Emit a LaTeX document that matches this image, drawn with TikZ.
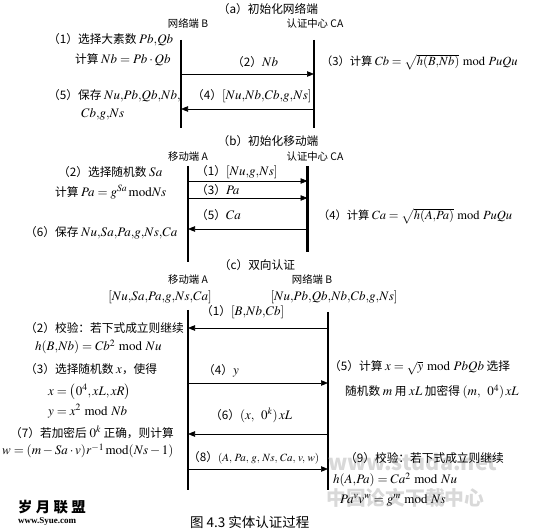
\documentclass[tikz,border=0pt]{standalone}
\usepackage{mathptmx}
\usepackage{fontspec}
\setmainfont{Liberation Serif}
\newfontfamily\cjk[Scale=0.9]{Noto Sans CJK SC}
\usetikzlibrary{arrows.meta}
\tikzset{
  life/.style={line width=2.2pt},
  msg/.style={line width=0.7pt,-{Triangle[length=7pt,width=5.5pt]}},
  txt/.style={inner sep=0pt,anchor=west,font=\fontsize{13}{15}\selectfont\cjk},
  ctr/.style={inner sep=0pt,anchor=center,font=\fontsize{13}{15}\selectfont\cjk},
  hdr/.style={inner sep=0pt,anchor=center,font=\fontsize{11.5}{13}\selectfont\cjk},
  wm/.style={inner sep=0pt,anchor=west,text=black!15,font=\fontsize{22}{24}\selectfont\bfseries\cjk},
}
\begin{document}
\begin{tikzpicture}[x=1pt,y=-1pt]
\useasboundingbox (0,0) rectangle (542,532);
% ---------- (a)
\node[ctr] (ta) at (268,9) {（a）初始化网络端};
\node[hdr] (hb) at (188,24) {网络端 B};
\node[hdr] (hca) at (315,24) {认证中心 CA};
\coordinate (aB1) at (181,40); \coordinate (aB2) at (181,128);
\coordinate (aC1) at (314,40); \coordinate (aC2) at (314,128);
\draw[life] (aB1) -- (aB2);
\draw[life] (aC1) -- (aC2);
\coordinate (a2s) at (181,74); \coordinate (a2e) at (314,74);
\coordinate (a4s) at (314,109); \coordinate (a4e) at (181,109);
\draw[msg] (a2s) -- (a2e);
\draw[msg] (a4s) -- (a4e);
\node[txt] (a2l) at (232,62) {（2）$Nb$};
\node[txt] (a4l) at (192,96) {（4）$[Nu{,}Nb{,}Cb{,}g{,}Ns]$};
\node[txt] (a1) at (48,40) {（1）选择大素数 $Pb{,}Qb$};
\node[txt] (a1b) at (75,60) {计算 $Nb=Pb\cdot Qb$};
\node[txt] (a5) at (48,96) {（5）保存 $Nu{,}Pb{,}Qb{,}Nb{,}$};
\node[txt] (a5b) at (81,114) {$Cb{,}g{,}Ns$};
\node[txt,font=\fontsize{12.5}{15}\selectfont\cjk] (a3) at (321,62) {（3）计算 $Cb=\sqrt{h(B{,}Nb)}\bmod PuQu$};
% ---------- (b)
\node[ctr] (tb) at (268,141) {（b）初始化移动端};
\node[hdr] (ha) at (188,157) {移动端 A};
\node[hdr] (hcb) at (315,157) {认证中心 CA};
\coordinate (bA1) at (188,166); \coordinate (bA2) at (188,262);
\coordinate (bC1) at (307.5,166); \coordinate (bC2) at (307.5,252);
\draw[life] (bA1) -- (bA2);
\draw[life] (bC1) -- (bC2);
\coordinate (b1s) at (188,181); \coordinate (b1e) at (307.5,181);
\coordinate (b3s) at (188,198); \coordinate (b3e) at (307.5,198);
\coordinate (b5s) at (307.5,229); \coordinate (b5e) at (188,229);
\draw[msg] (b1s) -- (b1e);
\draw[msg] (b3s) -- (b3e);
\draw[msg] (b5s) -- (b5e);
\node[txt] (b1l) at (196,172) {（1）$[Nu{,}g{,}Ns]$};
\node[txt] (b3l) at (196,190) {（3）$Pa$};
\node[txt] (b5l) at (196,215) {（5）$Ca$};
\node[txt] (b2) at (58,172) {（2）选择随机数 $Sa$};
\node[txt] (b2b) at (55,192) {计算 $Pa=g^{Sa}\,\mathrm{mod}Ns$};
\node[txt] (b6) at (25,233) {（6）保存 $Nu{,}Sa{,}Pa{,}g{,}Ns{,}Ca$};
\node[txt,font=\fontsize{12.5}{15}\selectfont\cjk] (b4) at (318,216) {（4）计算 $Ca=\sqrt{h(A{,}Pa)}\bmod PuQu$};
% ---------- (c)
\node[ctr] (tc) at (257,265) {（c）双向认证};
\node[hdr] (hac) at (188,280) {移动端 A};
\node[ctr] (sa) at (160,297) {$[Nu{,}Sa{,}Pa{,}g{,}Ns{,}Ca]$};
\node[hdr] (hbc) at (312,280) {网络端 B};
\node[ctr] (sb) at (334,297) {$[Nu{,}Pb{,}Qb{,}Nb{,}Cb{,}g{,}Ns]$};
\coordinate (cA1) at (188,310); \coordinate (cA2) at (188,490);
\coordinate (cB1) at (328,312); \coordinate (cB2) at (328,490);
\draw[life] (cA1) -- (cA2);
\draw[life] (cB1) -- (cB2);
\coordinate (c1s) at (328,328); \coordinate (c1e) at (188,328);
\coordinate (c4s) at (188,383); \coordinate (c4e) at (328,383);
\coordinate (c6s) at (328,434); \coordinate (c6e) at (188,434);
\coordinate (c8s) at (188,469); \coordinate (c8e) at (328,469);
\draw[msg] (c1s) -- (c1e);
\draw[msg] (c4s) -- (c4e);
\draw[msg] (c6s) -- (c6e);
\draw[msg] (c8s) -- (c8e);
\node[txt] (c1l) at (201,312) {（1）$[B{,}Nb{,}Cb]$};
\node[txt] (c4l) at (203,371) {（4）$y$};
\node[txt] (c6l) at (210,415) {（6）$(x,\ \ 0^k)\,xL$};
\node[txt] (c8l) at (188,458) {（8）{\fontsize{11}{12}\selectfont$(A,\,Pa,\,g,\,Ns,\,Ca,\,v,\,w)$}};
\node[txt] (c2) at (25,328) {（2）校验：若下式成立则继续};
\node[txt] (c2b) at (35,347) {$h(B{,}Nb)=Cb^2\bmod Nu$};
\node[txt] (c3) at (25,369) {（3）选择随机数 $x$，使得};
\node[txt] (c3b) at (48,392) {$x=\left(0^4,xL,xR\right)$};
\node[txt] (c3c) at (48,411) {$y=x^2\bmod Nb$};
\node[txt] (c7) at (10,432) {（7）若加密后 $0^k$ 正确，则计算};
\node[txt] (c7b) at (2,451) {$w=(m-Sa\cdot v)r^{-1}\,\mathrm{mod}(Ns-1)$};
\node[txt] (c5) at (329,368) {（5）计算 $x=\sqrt{y}\bmod PbQb$ 选择};
\node[txt] (c5b) at (345,392) {随机数 $m$ 用 $xL$ 加密得 $(m,\ \ 0^4)\,xL$};
% watermark
\node[wm] (w1) at (328,462) {\fontsize{24}{26}\selectfont www.studa.net};
\node[wm] (w2) at (326,498) {中国论文下载中心};
\node[txt] (c9) at (345,458) {（9）校验：若下式成立则继续};
\node[txt] (c9b) at (333,480) {$h(A{,}Pa)=Ca^2\bmod Nu$};
\node[txt] (c9c) at (340,500) {$Pa^v v^w=g^m\bmod Ns$};
% ---------- footer
\node[inner sep=0pt,anchor=west,font=\fontsize{16}{17}\selectfont\bfseries\cjk] (l1) at (18,507) {岁 月 联 盟};
\node[inner sep=0pt,anchor=west,font=\fontsize{9}{10}\selectfont\bfseries] (l2) at (18,521) {www.Syue.com};
\node[inner sep=0pt,anchor=west,font=\fontsize{15}{16}\selectfont\cjk] (cap) at (190,522) {图 4.3 实体认证过程};
\end{tikzpicture}
\end{document}
